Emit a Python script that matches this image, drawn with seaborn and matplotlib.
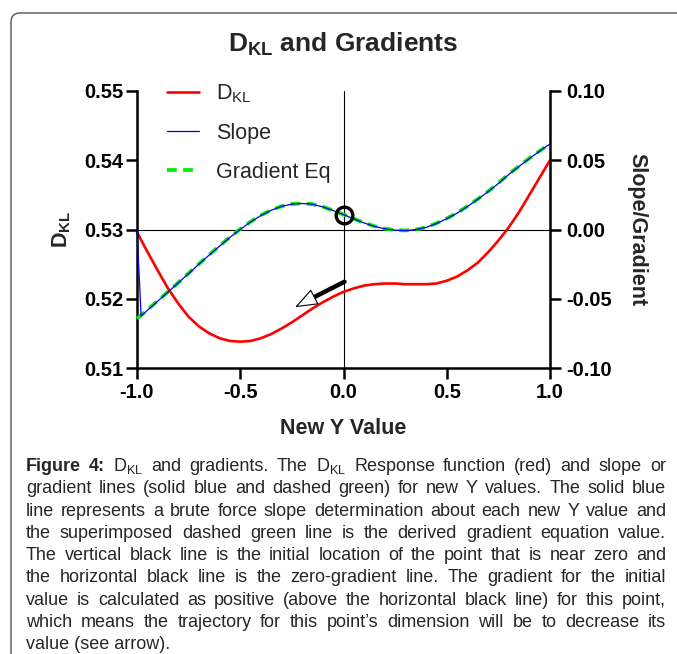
import matplotlib
matplotlib.use('Agg')
import matplotlib.pyplot as plt
import matplotlib.transforms as mtransforms
from matplotlib.patches import FancyBboxPatch
from matplotlib.ticker import FormatStrFormatter
import seaborn as sns

# ---------------------------------------------------------
# data
# ---------------------------------------------------------
dkl_x = [-1.00, -0.95, -0.90, -0.85, -0.80, -0.75, -0.70, -0.65, -0.60, -0.55,
         -0.50, -0.45, -0.40, -0.35, -0.30, -0.25, -0.20, -0.15, -0.10, -0.05,
         0.00, 0.05, 0.10, 0.15, 0.20, 0.25, 0.30, 0.35, 0.40, 0.45,
         0.50, 0.55, 0.60, 0.65, 0.70, 0.75, 0.80, 0.85, 0.90, 0.95, 1.00]
dkl_y = [0.5296, 0.5268, 0.5241, 0.5215, 0.5193, 0.5174, 0.5160, 0.5150, 0.5143, 0.5139,
         0.5138, 0.5139, 0.5143, 0.5149, 0.5157, 0.5166, 0.5176, 0.5186, 0.5195, 0.5203,
         0.5210, 0.5215, 0.5219, 0.5221, 0.5222, 0.5222, 0.5221, 0.5221, 0.5221, 0.5222,
         0.5226, 0.5232, 0.5241, 0.5252, 0.5267, 0.5284, 0.5303, 0.5325, 0.5350, 0.5375, 0.5400]

slope_x = [-1.00, -0.98, -0.95, -0.90, -0.85, -0.80, -0.75, -0.70, -0.65, -0.60, -0.55,
           -0.50, -0.45, -0.40, -0.35, -0.30, -0.25, -0.20, -0.15, -0.10, -0.05,
           0.00, 0.05, 0.10, 0.15, 0.20, 0.25, 0.30, 0.35, 0.40, 0.45,
           0.50, 0.55, 0.60, 0.65, 0.70, 0.75, 0.80, 0.85, 0.90, 0.95, 1.00]
slope_y = [-0.0005, -0.0625, -0.0584, -0.0518, -0.0452, -0.0385, -0.0318, -0.0250, -0.0184, -0.0120, -0.0057,
           0.0001, 0.0054, 0.0101, 0.0139, 0.0167, 0.0183, 0.0188, 0.0182, 0.0163, 0.0137,
           0.0107, 0.0077, 0.0047, 0.0023, 0.0005, -0.0005, -0.0008, -0.0001, 0.0015, 0.0043,
           0.0078, 0.0118, 0.0166, 0.0218, 0.0273, 0.0332, 0.0397, 0.0455, 0.0512, 0.0566, 0.0618]

grad_x = [-1.00, -0.95, -0.90, -0.85, -0.80, -0.75, -0.70, -0.65, -0.60, -0.55,
          -0.50, -0.45, -0.40, -0.35, -0.30, -0.25, -0.20, -0.15, -0.10, -0.05,
          0.00, 0.05, 0.10, 0.15, 0.20, 0.25, 0.30, 0.35, 0.40, 0.45,
          0.50, 0.55, 0.60, 0.65, 0.70, 0.75, 0.80, 0.85, 0.90, 0.95, 1.00]
grad_y = [-0.0644, -0.0580, -0.0515, -0.0450, -0.0383, -0.0316, -0.0248, -0.0182, -0.0118, -0.0055,
          0.0003, 0.0056, 0.0103, 0.0140, 0.0168, 0.0184, 0.0189, 0.0183, 0.0164, 0.0138,
          0.0108, 0.0078, 0.0048, 0.0024, 0.0006, -0.0004, -0.0007, 0.0000, 0.0016, 0.0045,
          0.0080, 0.0120, 0.0168, 0.0220, 0.0275, 0.0335, 0.0400, 0.0458, 0.0515, 0.0568, 0.0620]

# initial point (circled) and its arrow
point_x = [0.0]
point_y = [0.0108]

x_ticks = [-1.0, -0.5, 0.0, 0.5, 1.0]
dkl_ticks = [0.51, 0.52, 0.53, 0.54, 0.55]
grad_ticks = [-0.10, -0.05, 0.00, 0.05, 0.10]

legend_labels = ['D$_{\\mathrm{KL}}$', 'Slope', 'Gradient Eq']

caption_lines = [
    'Figure 4: D$_{\\mathrm{KL}}$ and gradients. The D$_{\\mathrm{KL}}$ Response function (red) and slope or',
    'gradient lines (solid blue and dashed green) for new Y values. The solid blue',
    'line represents a brute force slope determination about each new Y value and',
    'the superimposed dashed green line is the derived gradient equation value.',
    'The vertical black line is the initial location of the point that is near zero and',
    'the horizontal black line is the zero-gradient line. The gradient for the initial',
    'value is calculated as positive (above the horizontal black line) for this point,',
    'which means the trajectory for this point\u2019s dimension will be to decrease its',
    'value (see arrow).',
]

# ---------------------------------------------------------
# style
# ---------------------------------------------------------
sns.set_style('ticks')
plt.rcParams['font.family'] = ['Liberation Sans', 'DejaVu Sans']
plt.rcParams['mathtext.fontset'] = 'custom'
plt.rcParams['mathtext.rm'] = 'Liberation Sans'
plt.rcParams['mathtext.bf'] = 'Liberation Sans:bold'
plt.rcParams['mathtext.it'] = 'Liberation Sans:italic'
plt.rcParams['mathtext.default'] = 'regular'

W, H = 677, 654
fig = plt.figure(figsize=(W / 100, H / 100), dpi=100)
ax = fig.add_axes([137 / W, 1 - 368 / H, 413 / W, 277 / H])
ax2 = ax.twinx()

# ---------------------------------------------------------
# lines
# ---------------------------------------------------------
ax.axhline(0.53, color='black', linewidth=0.8, zorder=1)
ax.axvline(0.0, color='black', linewidth=0.8, zorder=1)

sns.lineplot(x=dkl_x, y=dkl_y, ax=ax, color='#ff0000', linewidth=1.9,
             estimator=None, sort=False, clip_on=False)
red_line = ax.lines[-1]

sns.lineplot(x=grad_x, y=grad_y, ax=ax2, color='#00ee00', linewidth=2.7,
             linestyle=(0, (2.6, 1.7)), estimator=None, sort=False, clip_on=False)
green_line = ax2.lines[-1]

sns.lineplot(x=slope_x, y=slope_y, ax=ax2, color='#0000ff', linewidth=0.9,
             estimator=None, sort=False, clip_on=False)
blue_line = ax2.lines[-1]

# circled initial point
ax2.plot(point_x, point_y, marker='o', markersize=12, markerfacecolor='none',
         markeredgecolor='black', markeredgewidth=2.4, linestyle='none', zorder=5)

# arrow: thick shaft + hollow head
ax2.annotate('', xy=(-0.148, -0.0493), xytext=(0.005, -0.0377),
             arrowprops=dict(arrowstyle='-', lw=3.2, color='black',
                             shrinkA=0, shrinkB=0))
ax2.annotate('', xy=(-0.2345, -0.0561), xytext=(-0.148, -0.0493),
             arrowprops=dict(arrowstyle='-|>,head_length=1.45,head_width=0.55',
                             mutation_scale=10, lw=0.8, fc='white', ec='black',
                             shrinkA=0, shrinkB=0))

# ---------------------------------------------------------
# axes
# ---------------------------------------------------------
ax.set_xlim(-1.0, 1.0)
ax.set_ylim(0.51, 0.55)
ax2.set_ylim(-0.10, 0.10)
ax.set_xticks(x_ticks)
ax.set_yticks(dkl_ticks)
ax2.set_yticks(grad_ticks)
ax.xaxis.set_major_formatter(FormatStrFormatter('%.1f'))
ax.yaxis.set_major_formatter(FormatStrFormatter('%.2f'))
ax2.yaxis.set_major_formatter(FormatStrFormatter('%.2f'))

for a in (ax, ax2):
    a.spines['top'].set_visible(False)
    for s in a.spines.values():
        s.set_linewidth(1.8)
        s.set_color('black')
ax.spines['right'].set_visible(False)
ax2.spines['left'].set_visible(False)
ax2.spines['bottom'].set_visible(False)

ax.tick_params(axis='both', direction='out', length=8, width=1.8,
               colors='black', labelsize=14.5)
ax.tick_params(axis='y', pad=2)
ax.tick_params(axis='x', pad=3)
ax2.tick_params(axis='y', direction='out', length=8, width=1.8,
                colors='black', labelsize=14.5, pad=3.5)
for lab in ax.get_xticklabels() + ax.get_yticklabels() + ax2.get_yticklabels():
    lab.set_fontweight('bold')

ax.set_xlabel('New Y Value', fontsize=15.5, fontweight='bold', va='center')
ax.xaxis.set_label_coords(0.5, -0.2200)
ax.set_ylabel('D$_{\\mathbf{KL}}$', fontsize=15.5, fontweight='bold', va='center')
ax.yaxis.set_label_coords(-0.182, 0.5)
ax2.set_ylabel('Slope/Gradient', fontsize=15.5, fontweight='bold',
               rotation=270, va='center')
ax2.yaxis.set_label_coords(1.2107, 0.5)

fig.text(343.5 / W, 1 - 44 / H, 'D$_{\\mathbf{KL}}$ and Gradients', fontsize=19,
         fontweight='bold', ha='center', va='center')

ax2.legend([red_line, blue_line, green_line], legend_labels, loc='upper left',
           bbox_to_anchor=(0.073, 1.03), frameon=False, fontsize=15.5,
           handlelength=1.5, handletextpad=0.75, labelspacing=0.82,
           borderpad=0, borderaxespad=0)

# ---------------------------------------------------------
# caption (justified) and page frame
# ---------------------------------------------------------
renderer = fig.canvas.get_renderer()
cap_left, cap_right = 26, 666
base0, step = 471, 22.3
cap_size = 13
for i, line in enumerate(caption_lines):
    y = 1 - (base0 + i * step) / H
    if i == len(caption_lines) - 1:
        fig.text(cap_left / W, y, line, fontsize=cap_size, va='baseline', ha='left')
        continue
    words = line.split(' ')
    texts = []
    for j, w in enumerate(words):
        bold = (i == 0 and j < 2)
        texts.append(fig.text(0, y, w, fontsize=cap_size, va='baseline', ha='left',
                              fontweight='bold' if bold else 'normal'))
    widths = [t.get_window_extent(renderer).width for t in texts]
    gap = (cap_right - cap_left - sum(widths)) / (len(words) - 1)
    xpos = cap_left
    for t, wd in zip(texts, widths):
        t.set_x(xpos / W)
        xpos += wd + gap

frame = FancyBboxPatch((11, -20), 720, H - 13 + 20,
                       boxstyle='round,pad=0,rounding_size=9',
                       transform=mtransforms.IdentityTransform(),
                       facecolor='none', edgecolor='#555555', linewidth=1.0)
fig.add_artist(frame)

fig.savefig('out.png', dpi=100)
